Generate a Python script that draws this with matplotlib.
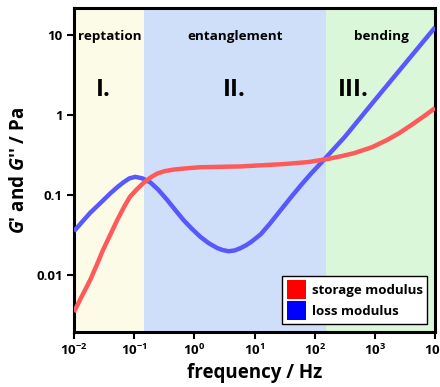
import numpy as np
import matplotlib
matplotlib.use("Agg")
import matplotlib.pyplot as plt
from matplotlib.patches import Patch
from matplotlib.ticker import FixedLocator, FixedFormatter, NullLocator

plt.rcParams['font.family'] = ['Open Sans', 'DejaVu Sans']
plt.rcParams['font.weight'] = 'bold'
plt.rcParams['mathtext.fontset'] = 'custom'
plt.rcParams['mathtext.rm'] = 'Open Sans:bold'
plt.rcParams['mathtext.it'] = 'Open Sans:italic:bold'
plt.rcParams['mathtext.bf'] = 'Open Sans:bold'

# values (log10 of frequency in Hz, log10 of modulus in Pa)
loss_logf = [-2.0, -1.86, -1.73, -1.55, -1.4, -1.28, -1.18, -1.08, -0.98, -0.86,
             -0.73, -0.6, -0.45, -0.3, -0.18, -0.04, 0.1, 0.24, 0.38, 0.47,
             0.57, 0.67, 0.77, 0.86, 0.95, 1.1, 1.25, 1.43, 1.6, 1.77,
             1.95, 2.1, 2.5, 3.0, 3.5, 4.0]
loss_logG = [-1.45, -1.33, -1.22, -1.09, -0.98, -0.90, -0.84, -0.79, -0.77, -0.79,
             -0.84, -0.93, -1.06, -1.2, -1.31, -1.42, -1.52, -1.60, -1.66, -1.685,
             -1.70, -1.69, -1.66, -1.625, -1.58, -1.49, -1.36, -1.19, -1.03, -0.875,
             -0.72, -0.6, -0.27, 0.19, 0.645, 1.1]

storage_logf = [-2.0, -1.86, -1.73, -1.62, -1.52, -1.4, -1.28, -1.17, -1.07, -0.96,
                -0.85, -0.73, -0.62, -0.5, -0.35, -0.15, 0.1, 0.77, 1.5, 1.9,
                2.23, 2.45, 2.65, 2.95, 3.2, 3.4, 3.6, 3.8, 4.0]
storage_logG = [-2.46, -2.25, -2.06, -1.87, -1.69, -1.50, -1.31, -1.15, -1.02, -0.93,
                -0.85, -0.78, -0.73, -0.70, -0.68, -0.665, -0.65, -0.64, -0.61, -0.585,
                -0.545, -0.51, -0.475, -0.40, -0.31, -0.225, -0.125, -0.02, 0.09]

# regimes: (start Hz, end Hz, colour, name)
regions = [(0.01, 0.147, '#fcfbe8', 'reptation'),
           (0.147, 152, '#cfdffa', 'entanglement'),
           (152, 1e4, '#daf7da', 'bending')]
numerals = ['I.', 'II.', 'III.']
numeral_x = [0.031, 4.6, 430]

xticks = [1e-2, 1e-1, 1e0, 1e1, 1e2, 1e3, 1e4]
xticklabels = [r'$10^{-2}$', r'$10^{-1}$', r'$10^{0}$', r'$10^{1}$',
               r'$10^{2}$', r'$10^{3}$', r'$10^{4}$']
yticks = [0.01, 0.1, 1, 10]
yticklabels = ['0.01', '0.1', '1', '10']

fig = plt.figure(figsize=(4.4, 3.87), dpi=100)
ax = fig.add_axes([0.168, 0.142, 0.821, 0.837])
ax.set_xscale('log')
ax.set_yscale('log')

for lo, hi, c, name in regions:
    ax.axvspan(lo, hi, color=c, lw=0, zorder=0)
    ax.text(np.sqrt(lo * hi) * 1.02, 9.6, name, ha='center', va='center', fontsize=9.7, weight='bold')

for num, xpos in zip(numerals, numeral_x):
    ax.text(xpos, 2.05, num, ha='center', va='center', fontsize=17.5, weight='bold')

ax.plot(10 ** np.array(loss_logf), 10 ** np.array(loss_logG), color='#5858ff', lw=3.2,
        solid_capstyle='butt', zorder=3)
ax.plot(10 ** np.array(storage_logf), 10 ** np.array(storage_logG), color='#ff5a5a', lw=3.2,
        solid_capstyle='butt', zorder=3)

ax.set_xlim(1e-2, 1e4)
ax.set_ylim(0.00195, 21.8)

ax.xaxis.set_major_locator(FixedLocator(xticks))
ax.xaxis.set_major_formatter(FixedFormatter(xticklabels))
ax.xaxis.set_minor_locator(NullLocator())
ax.yaxis.set_major_locator(FixedLocator(yticks))
ax.yaxis.set_major_formatter(FixedFormatter(yticklabels))
ax.yaxis.set_minor_locator(NullLocator())
ax.tick_params(direction='out', length=5, width=1.5, labelsize=9.5, pad=3)
for lab in ax.get_xticklabels() + ax.get_yticklabels():
    lab.set_fontweight('bold')

for s in ax.spines.values():
    s.set_linewidth(2.2)

ax.set_xlabel('frequency / Hz', fontsize=13.5, weight='bold', labelpad=3)
ax.set_ylabel(r"$G$' and $G$'' / Pa", fontsize=13.5, weight='bold', labelpad=5)

handles = [Patch(facecolor='#ff0000', edgecolor='none', label='storage modulus'),
           Patch(facecolor='#0000ff', edgecolor='none', label='loss modulus')]
leg = ax.legend(handles=handles, loc='lower right', fontsize=9.5, frameon=True,
                fancybox=False, edgecolor='black', framealpha=1,
                handlelength=1.5, handleheight=1.75, handletextpad=0.4,
                borderpad=0.35, labelspacing=0.2, borderaxespad=0.6)
leg.get_frame().set_linewidth(1.0)

fig.savefig('out.png', dpi=100)
